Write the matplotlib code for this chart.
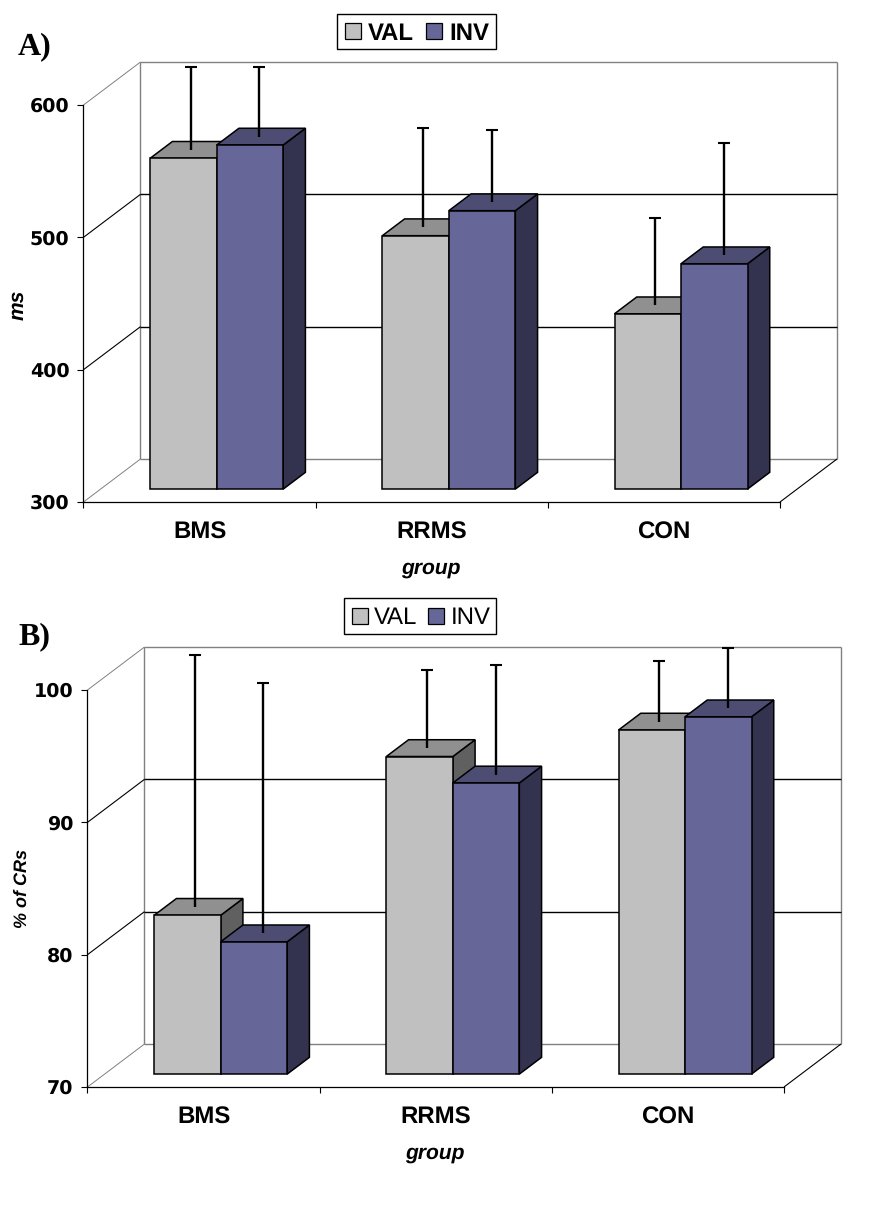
import matplotlib
matplotlib.use("Agg")
import matplotlib.pyplot as plt
from matplotlib.patches import Rectangle

plt.rcParams["text.hinting"] = "no_hinting"
plt.rcParams["text.hinting_factor"] = 1

W, H = 870, 1210

groups = ["BMS", "RRMS", "CON"]
series = ["VAL", "INV"]

# panel A: reaction time (ms)
val_a = [550, 491.5, 432.5]
inv_a = [560, 510.4, 470.3]
val_a_err = [63, 75, 66]
inv_a_err = [53, 54.6, 84.7]
ticks_a = [300, 400, 500, 600]

# panel B: % of CRs
val_b = [82, 94, 96]
inv_b = [80, 92, 97]
val_b_err = [19, 5.9, 4.6]
inv_b_err = [18.9, 8.3, 4.6]
ticks_b = [70, 80, 90, 100]

VAL_COLS = ("#C0C0C0", "#909090", "#606060")
INV_COLS = ("#666699", "#4D4D73", "#333350")

DEPTH_X, DEPTH_Y = 57, 43   # px of the full chart depth
BAR_D0, BAR_D1 = 0.30, 0.69  # bar front / back as a share of depth
BAR_W = 66.5                # px


def draw_panel(left, bottom, vals, invs, val_err, inv_err, ticks, ylabel, yfont, ylabel_x, ylabel_y):
    right = left + 696.5
    top = bottom - 397
    ax = fig.add_axes([left / W, 1 - bottom / H, (right - left) / W, (bottom - top) / H])
    ax.set_xlim(0, 3)
    ax.set_ylim(ticks[0], ticks[-1])
    ax.patch.set_alpha(0)
    px_x = 3 / (right - left)
    px_y = (ticks[-1] - ticks[0]) / (bottom - top)

    def proj(x, v, d):
        return x + d * DEPTH_X * px_x, v + d * DEPTH_Y * px_y

    def seg(p, q, color, lw=0.8):
        ax.plot([p[0], q[0]], [p[1], q[1]], color=color, lw=lw, clip_on=False, zorder=1,
                solid_capstyle="butt")

    def poly(pts, color):
        xs = [p[0] for p in pts]
        ys = [p[1] for p in pts]
        ax.fill(xs, ys, facecolor=color, edgecolor="black", lw=1.1, clip_on=False, zorder=3,
                joinstyle="miter")

    # walls and floor
    y0, y1 = ticks[0], ticks[-1]
    seg(proj(0, y0, 1), proj(0, y1, 1), "#808080", 1.0)
    seg(proj(3, y0, 1), proj(3, y1, 1), "#808080", 1.0)
    seg(proj(0, y1, 1), proj(3, y1, 1), "#808080", 1.0)
    seg(proj(0, y0, 1), proj(3, y0, 1), "#808080", 1.0)
    seg(proj(0, y0, 0), proj(0, y0, 1), "#808080", 0.7)
    seg(proj(0, y1, 0), proj(0, y1, 1), "#808080", 0.7)
    seg(proj(3, y0, 0), proj(3, y0, 1), "black", 0.8)
    for t in ticks[1:-1]:
        seg(proj(0, t, 0), proj(0, t, 1), "black", 0.8)
        seg(proj(0, t, 1), proj(3, t, 1), "black", 1.0)

    # bars, back to front inside each group
    w = BAR_W * px_x
    for i in range(3):
        c = i + 0.5
        for x0, v, cols in [(c - w, vals[i], VAL_COLS), (c, invs[i], INV_COLS)]:
            x1 = x0 + w
            poly([proj(x1, y0, BAR_D0), proj(x1, y0, BAR_D1), proj(x1, v, BAR_D1), proj(x1, v, BAR_D0)], cols[2])
            poly([proj(x0, v, BAR_D0), proj(x1, v, BAR_D0), proj(x1, v, BAR_D1), proj(x0, v, BAR_D1)], cols[1])
            poly([proj(x0, y0, BAR_D0), proj(x1, y0, BAR_D0), proj(x1, v, BAR_D0), proj(x0, v, BAR_D0)], cols[0])

    # error bars sit on the top face of each bar, upper cap only
    err_d = (BAR_D0 + BAR_D1) / 2
    for i in range(3):
        c = i + 0.5
        for x, v, e, shift in [(c - w / 2, vals[i], val_err[i], 7.5), (c + w / 2, invs[i], inv_err[i], 9.5)]:
            ex = x + BAR_D0 * DEPTH_X * px_x + shift * px_x
            ey = proj(0, v, err_d)[1]
            ax.plot([ex, ex], [ey, ey + e], color="black", lw=1.7, clip_on=False, zorder=5,
                    solid_capstyle="butt")
            ax.plot([ex], [ey + e], marker="_", ms=8.5, mew=1.5, color="black", clip_on=False, zorder=5)

    for s in ["top", "right"]:
        ax.spines[s].set_visible(False)
    for s in ["left", "bottom"]:
        ax.spines[s].set_linewidth(0.9)
        ax.spines[s].set_zorder(4)

    ax.set_yticks(ticks)
    ax.set_yticklabels([str(t) for t in ticks], fontfamily="DejaVu Sans", fontweight="bold", fontsize=13.5)
    ax.tick_params(axis="y", length=4.5, width=0.8, pad=5.5)
    ax.set_xticks([0, 1, 2, 3])
    ax.set_xticklabels([])
    ax.tick_params(axis="x", which="major", length=4.5, width=0.8)
    ax.set_xticks([0.5, 1.5, 2.5], minor=True)
    ax.set_xticklabels(groups, minor=True, fontfamily="Liberation Sans", fontweight="bold", fontsize=17)
    ax.tick_params(axis="x", which="minor", length=0, pad=14)

    ax.set_xlabel("group", fontfamily="Liberation Sans", fontweight="bold", fontstyle="italic", fontsize=15)
    ax.xaxis.set_label_coords(0.498, -66 / (bottom - top), transform=ax.transAxes)
    ax.xaxis.label.set_va("center")
    overlay.text(ylabel_x, ylabel_y, ylabel, rotation=90, ha="center", va="center",
                 fontfamily="Liberation Sans", fontweight="bold", fontstyle="italic", fontsize=yfont)


def draw_legend(x0, y0, x1, y1, sq1, sq2, tx1, tx2, size, weight):
    overlay.add_patch(Rectangle((x0, y0), x1 - x0, y1 - y0, facecolor="white", edgecolor="black", lw=1.0))
    ym = (y0 + y1) / 2
    for sq, col in [(sq1, VAL_COLS[0]), (sq2, INV_COLS[0])]:
        overlay.add_patch(Rectangle((sq, ym - 8), 16, 16, facecolor=col, edgecolor="black", lw=0.9))
    for tx, name in [(tx1, series[0]), (tx2, series[1])]:
        overlay.text(tx, ym, name, ha="left", va="center_baseline", fontfamily="Liberation Sans",
                     fontsize=size, fontweight=weight)


fig = plt.figure(figsize=(W / 100, H / 100), dpi=100, facecolor="white")

# overlay in picture pixels for panel letters, legends and y labels
overlay = fig.add_axes([0, 0, 1, 1], zorder=10)
overlay.set_xlim(0, W)
overlay.set_ylim(H, 0)
overlay.axis("off")

draw_panel(83.5, 502, val_a, inv_a, val_a_err, inv_a_err, ticks_a, "ms", 15, 18, 305)
draw_panel(87.5, 1087, val_b, inv_b, val_b_err, inv_b_err, ticks_b, "% of CRs", 13, 22.5, 888)

draw_legend(337.5, 13.5, 496, 49, 345, 426, 368, 449, 17, "bold")
draw_legend(344.5, 597.5, 496, 634, 352.5, 428.5, 374, 451, 17, "normal")

overlay.text(18, 47, "A)", fontfamily="Liberation Serif", fontweight="bold", fontsize=23, va="center")
overlay.text(18, 637, "B)", fontfamily="Liberation Serif", fontweight="bold", fontsize=23, va="center")

fig.savefig("out.png", dpi=100)
